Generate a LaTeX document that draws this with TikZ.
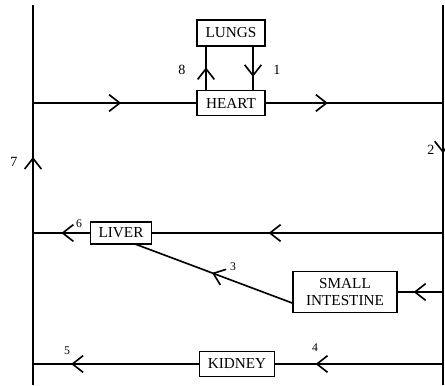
\documentclass[tikz,border=0pt]{standalone}
\usepackage{fontspec}
\setmainfont{Liberation Serif}
\usetikzlibrary{arrows.meta,decorations.markings}
\tikzset{
	chev/.tip={Straight Barb[length=0.32cm,width=0.5cm]},
	organ/.style={draw,line width=1.4pt,inner sep=0pt,font=\fontsize{13}{15}\selectfont},
	flow/.style={postaction={decorate,decoration={markings,mark=at position #1 with {\arrow{chev}}}}},
	bignum/.style={font=\fontsize{12}{12}\selectfont},
	smallnum/.style={font=\fontsize{10}{10}\selectfont},
}
\begin{document}
\begin{tikzpicture}[x=0.03cm,y=-0.03cm,line width=1.4pt]
\clip (0,0) rectangle (445,385);
\node[organ,minimum width=2.04cm,minimum height=0.78cm] (lungs) at (231,33) {LUNGS};
\node[organ,minimum width=2.04cm,minimum height=0.75cm] (heart) at (231,103) {HEART};
\node[organ,minimum width=1.83cm,minimum height=0.66cm] (liver) at (121,233) {LIVER};
\node[organ,minimum width=3.12cm,minimum height=1.23cm,align=center] (si) at (345,292) {SMALL\\INTESTINE};
\node[organ,minimum width=2.25cm,minimum height=0.75cm] (kidney) at (237,364) {KIDNEY};
% the two main vessels
\coordinate (lt) at (33,5);
\coordinate (lb) at (33,385);
\coordinate (rt) at (443,5);
\coordinate (rb) at (443,385);
\draw[flow=0.6] (lb) -- (lt);
\draw[flow=0.39] (rt) -- (rb);
% heart and lungs
\draw[flow=0.54] (33,103) -- (heart.west);
\draw[flow=0.35] (heart.east) -- (443,103);
\draw[flow=0.52] (heart.north -| 206,0) -- (lungs.south -| 206,0);
\draw[flow=0.7] (lungs.south -| 253,0) -- (heart.north -| 253,0);
% liver, gut, kidney
\draw[flow=0.6] (443,233) -- (liver.east);
\draw[flow=0.5] (liver.west) -- (33,233);
\draw[flow=0.51] (si.west) ++(0,11) -- (135,244);
\draw[flow=0.65] (443,292) -- (si.east);
\draw[flow=0.76] (443,364) -- (kidney.east);
\draw[flow=0.77] (kidney.west) -- (33,364);
% numbers
\node[bignum] (n8) at (182,70) {8};
\node[bignum] (n1) at (277,70) {1};
\node[bignum] (n7) at (14,162) {7};
\node[bignum] (n2) at (431,150) {2};
\node[smallnum] (n6) at (79,224) {6};
\node[smallnum] (n3) at (233,267) {3};
\node[smallnum] (n4) at (315,348) {4};
\node[smallnum] (n5) at (67,351) {5};
\end{tikzpicture}
\end{document}
